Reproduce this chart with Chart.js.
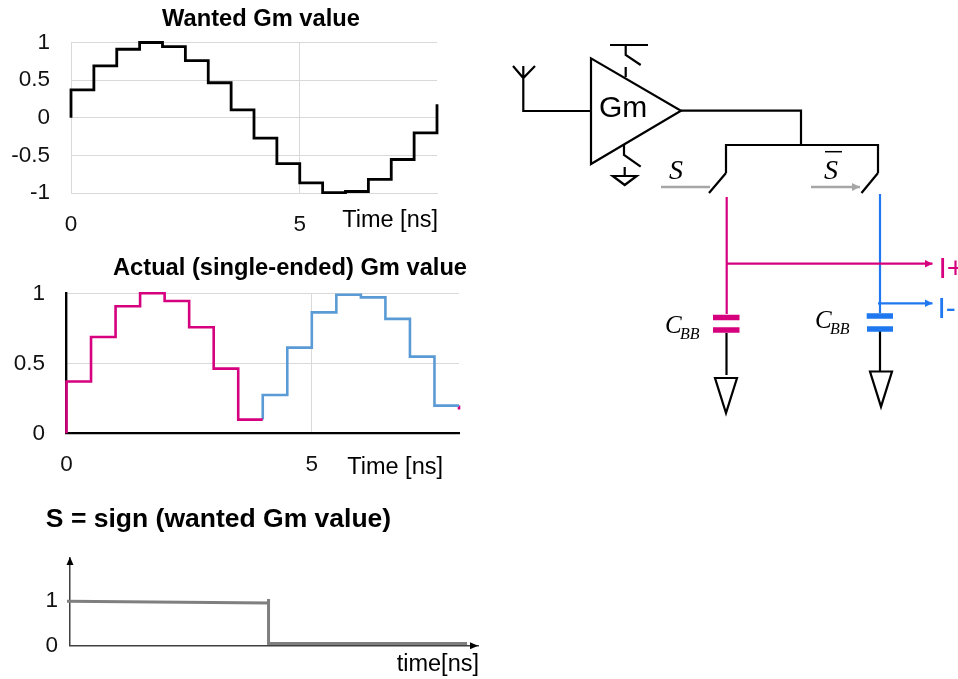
<!DOCTYPE html>
<html>
<head>
<meta charset="utf-8">
<script src="https://cdn.jsdelivr.net/npm/chart.js@4"></script>
<style>
html,body{margin:0;padding:0;background:#fff;overflow:hidden}
#page{position:relative;width:958px;height:679px;overflow:hidden}
canvas{position:absolute;left:0}
svg{position:absolute;left:0;top:0}
text{font-family:"Liberation Sans",Arial,sans-serif}
.m{font-family:"Liberation Serif",serif;font-style:italic}
</style>
</head>
<body>
<div id="page">
<canvas id="c1" width="480" height="240" style="top:0"></canvas>
<canvas id="c2" width="480" height="240" style="top:250px"></canvas>
<canvas id="c3" width="490" height="179" style="top:500px"></canvas>
<svg width="958" height="679" viewBox="0 0 958 679" fill="none" stroke-linecap="butt" stroke-linejoin="miter">
  <defs>
    <marker id="ag" markerUnits="userSpaceOnUse" markerWidth="10" markerHeight="10" refX="8" refY="4" orient="auto"><path d="M0 0L8 4L0 8Z" fill="#a6a6a6"/></marker>
    <marker id="ap" markerUnits="userSpaceOnUse" markerWidth="10" markerHeight="10" refX="8" refY="4" orient="auto"><path d="M0 0L8 4L0 8Z" fill="#d6007f"/></marker>
    <marker id="ab" markerUnits="userSpaceOnUse" markerWidth="10" markerHeight="10" refX="8" refY="4" orient="auto"><path d="M0 0L8 4L0 8Z" fill="#1f78f0"/></marker>
  </defs>
  <g stroke="#000" stroke-width="2.2">
    <path d="M513 66L523.3 78L535 66M523.3 66V111H591"/>
    <path d="M591 58.3V164L681 110.7Z"/>
    <path d="M610 45H648M625.7 45V55L640.7 65M625.7 67V77"/>
    <path d="M624 144V155L640.7 166.7M624.7 167V176M612.7 176H636.7L624.7 185Z"/>
    <path d="M681 110.7H801V145M726 173V145H878V173"/>
    <path d="M726 173L709 193M878 173L861.5 193"/>
    <path d="M726.5 333V375M880 330V372"/>
    <path d="M715 378H737L726 413Z"/>
    <path d="M870 371.5H892L881 406.7Z"/>
  </g>
  <path d="M661 187H710M811 187H860" stroke="#a6a6a6" stroke-width="2.5" marker-end="url(#ag)"/>
  <g stroke="#1f78f0">
    <path d="M880 194V313" stroke-width="2.2"/>
    <path d="M866.7 316H893M867 329H893" stroke-width="5.5"/>
    <path d="M878 303.3H932.5" stroke-width="2.2" marker-end="url(#ab)"/>
  </g>
  <g stroke="#d6007f">
    <path d="M726.7 197V314" stroke-width="2.2"/>
    <path d="M713 317.5H739.5M713 330H739.5" stroke-width="5.5"/>
    <path d="M727 263.7H932.5" stroke-width="2.2" marker-end="url(#ap)"/>
  </g>
  <g fill="#000" stroke="none">
    <text x="599" y="117" font-size="30">Gm</text>
    <text x="669" y="179" font-size="28" class="m">S</text>
    <text x="824" y="179" font-size="28" class="m">S</text>
    <text x="665" y="333" font-size="25" class="m">C</text>
    <text x="680" y="339" font-size="16" class="m">BB</text>
    <text x="815" y="328" font-size="25" class="m">C</text>
    <text x="830" y="334" font-size="16" class="m">BB</text>
  </g>
  <path d="M825 151.7H842" stroke="#000" stroke-width="1.5"/>
  <text x="938.5" y="278" font-size="30" fill="#d6007f" stroke="none">I+</text>
  <text x="937.5" y="318" font-size="30" fill="#1f78f0" stroke="none">I-</text>
</svg>
</div>
<script>
// Chart 1: wanted Gm value
const wantedTimes = [0,0,0.5,1,1.5,2,2.5,3,3.5,4,4.5,5,5.5,6,6.5,7,7.5,8,8];
const wantedGm    = [0,0.37,0.69,0.91,1,0.945,0.76,0.465,0.105,-0.27,-0.61,-0.865,-0.995,-0.98,-0.82,-0.555,-0.2,-0.2,0.18];
// Chart 2: actual (single-ended) Gm value
const pinkTimes = [0,0,0.5,1,1.5,2,2.5,3,3.5,4];
const pinkGm    = [0,0.37,0.688,0.907,1,0.945,0.757,0.462,0.098,0.098];
const blueTimes = [4,4,4.5,5,5.5,6,6.5,7,7.5,8];
const blueGm    = [0.098,0.274,0.612,0.864,0.99,0.971,0.817,0.548,0.198,0.198];
const tailTimes = [8,8];
const tailGm    = [0.198,0.17];
// Chart 3: S = sign(wanted Gm value)
const signTimes = [-0.06,4,4,4,8];
const signValues= [1,0.96,1.05,0.05,0.05];
// Text
const title1 = 'Wanted Gm value', title2 = 'Actual (single-ended) Gm value', title3 = 'S = sign (wanted Gm value)';
const timeLabel = 'Time [ns]', timeLabel3 = 'time[ns]';

const FONT = '"Liberation Sans", Arial, sans-serif';
const tickFont = {family:FONT,size:22.5,lineHeight:1.2};
const pts = (xs,ys)=>xs.map((x,i)=>({x,y:ys[i]}));
const GRID = '#d9d9d9';
const plain = v=>String(v);

const placer = {
  id:'placer',
  afterLayout(chart,a,o){ // centres the title block on its reference position
    chart.titleBlock.left = o.cx-300; chart.titleBlock.right = o.cx+300;
  },
  afterDraw(chart,a,o){
    const c = chart.ctx; c.save();
    c.font = '23.5px '+FONT; c.fillStyle='#000'; c.textAlign='right'; c.textBaseline='middle';
    c.fillText(o.caption,o.capX,o.capY);
    if(o.arrows){
      const {left,right,top,bottom}=chart.chartArea;
      c.fillStyle='#000';
      c.beginPath();c.moveTo(right,bottom);c.lineTo(right-8,bottom-3.5);c.lineTo(right-8,bottom+3.5);c.fill();
      c.beginPath();c.moveTo(left,top-1);c.lineTo(left-3.5,top+7);c.lineTo(left+3.5,top+7);c.fill();
    }
    c.restore();
  }
};
const titleOpt=(text,size,bottom)=>({display:true,text,color:'#000',align:'center',font:{family:FONT,size,weight:'bold',lineHeight:1},padding:{top:0,bottom}});
const base=(pad,title,place)=>({
  responsive:false,animation:false,layout:{padding:pad},
  plugins:{legend:{display:false},tooltip:{enabled:false},title,placer:place},
  elements:{point:{radius:0}}
});

new Chart(document.getElementById('c1'),{
  type:'scatter',plugins:[placer],
  data:{datasets:[{data:pts(wantedTimes,wantedGm),showLine:true,stepped:'before',borderColor:'#000',borderWidth:2.8,clip:false}]},
  options:{...base({left:0,right:43,top:7.5,bottom:0},titleOpt(title1,23.7,11.3),{cx:261,caption:timeLabel,capX:438,capY:221}),
    scales:{
      x:{type:'linear',min:0,max:8,afterFit:s=>{s.height=47},
        ticks:{stepSize:5,includeBounds:false,maxRotation:0,color:'#111',font:tickFont,padding:18},
        grid:{color:GRID,drawTicks:false},border:{color:GRID}},
      y:{min:-1,max:1,afterFit:s=>{s.width=71},
        ticks:{stepSize:0.5,color:'#111',font:tickFont,padding:21,callback:plain},
        grid:{color:GRID,drawTicks:false},border:{color:GRID}}
    }}
});

new Chart(document.getElementById('c2'),{
  type:'scatter',plugins:[placer],
  data:{datasets:[
    {data:pts(pinkTimes,pinkGm),showLine:true,stepped:'before',borderColor:'#d6007f',borderWidth:2.6,clip:false},
    {data:pts(blueTimes,blueGm),showLine:true,stepped:'before',borderColor:'#5b9bd5',borderWidth:2.6,clip:false},
    {data:pts(tailTimes,tailGm),showLine:true,borderColor:'#d6007f',borderWidth:2.6,clip:false}
  ]},
  options:{...base({left:0,right:21,top:6.15,bottom:0},titleOpt(title2,23.7,13.45),{cx:290,caption:timeLabel,capX:443,capY:218}),
    scales:{
      x:{type:'linear',min:0,max:8,afterFit:s=>{s.height=56.7},
        ticks:{stepSize:5,includeBounds:false,maxRotation:0,color:'#111',font:tickFont,padding:18},
        grid:{color:GRID,drawTicks:false},border:{color:'#000',width:2.2}},
      y:{min:0,max:1,afterFit:s=>{s.width=66.5},
        ticks:{stepSize:0.5,color:'#111',font:tickFont,padding:21.5,callback:plain},
        grid:{color:GRID,drawTicks:false},border:{color:'#000',width:2.4}}
    }}
});

new Chart(document.getElementById('c3'),{
  type:'scatter',plugins:[placer],
  data:{datasets:[{data:pts(signTimes,signValues),showLine:true,borderColor:'#7f7f7f',borderWidth:3,clip:false}]},
  options:{...base({left:0,right:12,top:6.75,bottom:0},titleOpt(title3,26.5,24.75),{cx:218.5,caption:timeLabel3,capX:479,capY:165,arrows:true}),
    scales:{
      x:{type:'linear',min:0,max:8.22,afterFit:s=>{s.height=33.3},
        ticks:{display:false},
        grid:{display:false,drawTicks:false},border:{color:'#404040',width:1.5}},
      y:{min:0,max:1.97,afterFit:s=>{s.width=70},
        ticks:{stepSize:1,includeBounds:false,color:'#111',font:tickFont,padding:12,callback:plain},
        grid:{display:false,drawTicks:false},border:{color:'#404040',width:1.5}}
    }}
});
</script>
</body>
</html>
